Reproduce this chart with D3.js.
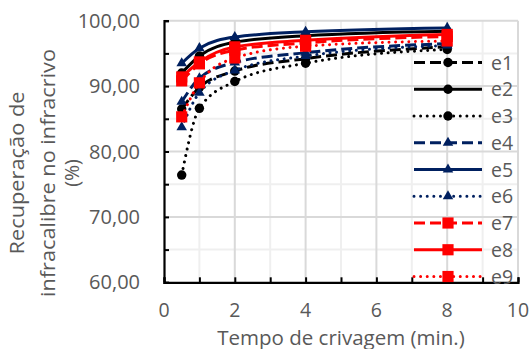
<!DOCTYPE html>
<html>
<head>
<meta charset="utf-8">
<script src="https://cdn.jsdelivr.net/npm/d3@7"></script>
<style>
  html, body { margin: 0; padding: 0; background: #fff; }
  svg { display: block; }
  text { font-family: "Open Sans", "Liberation Sans", sans-serif; fill: #595959; }
</style>
</head>
<body>
<svg id="chart" width="530" height="349"></svg>
<script>
// Sieving time (min.)
const times = [0.5, 1, 2, 4, 8];

// Undersize recovery (%) per test
const e1 = [86.5, 89.8, 92.3, 94.2, 96.0];
const e2 = [92.0, 94.6, 96.7, 97.7, 98.4];
const e3 = [76.4, 86.6, 90.7, 93.5, 95.6];
const e4 = [87.6, 91.2, 93.6, 95.1, 96.5];
const e5 = [93.5, 95.8, 97.5, 98.3, 98.9];
const e6 = [83.7, 89.0, 92.4, 94.6, 96.2];
const e7 = [90.8, 93.4, 95.5, 96.6, 97.6];
const e8 = [91.4, 93.7, 96.0, 97.0, 97.9];
const e9 = [85.3, 90.5, 94.3, 96.1, 96.9];

const seriesNames = ["e1", "e2", "e3", "e4", "e5", "e6", "e7", "e8", "e9"];
const seriesValues = [e1, e2, e3, e4, e5, e6, e7, e8, e9];

const xTicks = [0, 2, 4, 6, 8, 10];
const yTicks = [60, 70, 80, 90, 100];

// Styles: colour, dash pattern, marker shape
const colours = ["#000000", "#000000", "#000000", "#002060", "#002060", "#002060", "#ff0000", "#ff0000", "#ff0000"];
const dashes = ["dash", "solid", "dot", "dash", "solid", "dot", "dash", "solid", "dot"];
const shapes = ["circle", "circle", "circle", "triangle", "triangle", "triangle", "square", "square", "square"];

const svg = d3.select("#chart");
const m = { left: 164, right: 518, top: 20.7, bottom: 282.3 };

const x = d3.scaleLinear().domain([0, 10]).range([m.left, m.right]);
const y = d3.scaleLinear().domain([60, 100]).range([m.bottom, m.top]);

// Gridlines: minor first, then major
const grid = svg.append("g");
const minorX = d3.range(1, 11, 2), majorX = d3.range(2, 11, 2);
const minorY = d3.range(65, 100, 10), majorY = d3.range(70, 101, 10);
grid.selectAll(".mx").data(minorX).join("line")
  .attr("x1", d => x(d)).attr("x2", d => x(d)).attr("y1", m.top).attr("y2", m.bottom)
  .attr("stroke", "#efefef").attr("stroke-width", 2);
grid.selectAll(".my").data(minorY).join("line")
  .attr("y1", d => y(d)).attr("y2", d => y(d)).attr("x1", m.left).attr("x2", m.right)
  .attr("stroke", "#efefef").attr("stroke-width", 2);
grid.selectAll(".Mx").data(majorX).join("line")
  .attr("x1", d => x(d)).attr("x2", d => x(d)).attr("y1", m.top).attr("y2", m.bottom)
  .attr("stroke", "#d9d9d9").attr("stroke-width", 2);
grid.selectAll(".My").data(majorY).join("line")
  .attr("y1", d => y(d)).attr("y2", d => y(d)).attr("x1", m.left).attr("x2", m.right)
  .attr("stroke", "#d9d9d9").attr("stroke-width", 2);

// Axes with inward tick marks
const xAxis = d3.axisBottom(x).tickValues(d3.range(0, 11, 1)).tickSize(-5).tickFormat("");
const yAxis = d3.axisLeft(y).tickValues(d3.range(60, 101, 5)).tickSize(-5).tickFormat("");
const gx = svg.append("g").attr("transform", `translate(0,${m.bottom})`).call(xAxis);
const gy = svg.append("g").attr("transform", `translate(${m.left},0)`).call(yAxis);
[gx, gy].forEach(g => {
  g.select(".domain").attr("stroke", "#000").attr("stroke-width", 2.2);
  g.selectAll(".tick line").attr("stroke", "#000").attr("stroke-width", 2);
});

// Tick labels
svg.append("g").selectAll("text").data(xTicks).join("text")
  .attr("x", d => x(d)).attr("y", 317)
  .attr("text-anchor", "middle").attr("font-size", 19.5)
  .text(d => d);
const fmt = d => d.toFixed(2).replace(".", ",");
svg.append("g").selectAll("text").data(yTicks).join("text")
  .attr("x", 140).attr("y", d => y(d) + 7)
  .attr("text-anchor", "end").attr("font-size", 20)
  .text(fmt);

// Axis titles
svg.append("text").attr("x", 341).attr("y", 344.5)
  .attr("text-anchor", "middle").attr("font-size", 20.5)
  .text("Tempo de crivagem (min.)");
const yTitle = svg.append("text")
  .attr("transform", "translate(0,173) rotate(-90)")
  .attr("text-anchor", "middle").attr("font-size", 19.5);
const yTitleLines = ["Recuperação de", "infracalibre no infracrivo", "(%)"];
const yTitleOffsets = [24, 55, 79];
const yTitleWidths = [163, 248, null];
yTitleLines.forEach((t, i) => {
  const ts = yTitle.append("tspan").attr("x", 0).attr("y", yTitleOffsets[i]).text(t);
  if (yTitleWidths[i]) ts.attr("textLength", yTitleWidths[i]).attr("lengthAdjust", "spacingAndGlyphs");
});

const dashArray = { dash: "11,5", solid: null, dot: "0.01,6.6" };
const symbolFor = {
  circle: d3.symbol(d3.symbolCircle, 70),
  triangle: d3.symbol(d3.symbolTriangle, 48),
  square: d3.symbol(d3.symbolSquare, 125)
};

const line = d3.line().x(d => x(d[0])).y(d => y(d[1])).curve(d3.curveMonotoneX);

// Series lines and markers
const plot = svg.append("g");
seriesValues.forEach((vals, i) => {
  const pts = times.map((t, j) => [t, vals[j]]);
  const g = plot.append("g");
  g.append("path").datum(pts)
    .attr("d", line)
    .attr("fill", "none")
    .attr("stroke", colours[i])
    .attr("stroke-width", 3)
    .attr("stroke-linecap", dashes[i] === "dot" ? "round" : "butt")
    .attr("stroke-dasharray", dashArray[dashes[i]]);
  g.selectAll("path.mk").data(pts).join("path")
    .attr("class", "mk")
    .attr("transform", d => `translate(${x(d[0])},${y(d[1])})`)
    .attr("d", symbolFor[shapes[i]])
    .attr("fill", colours[i]);
});

// Legend inside plot area
const legend = svg.append("g");
seriesNames.forEach((name, i) => {
  const ly = 62.5 + i * 26.75;
  const g = legend.append("g");
  g.append("line")
    .attr("x1", 414).attr("x2", 482).attr("y1", ly).attr("y2", ly)
    .attr("stroke", colours[i]).attr("stroke-width", 3)
    .attr("stroke-linecap", dashes[i] === "dot" ? "round" : "butt")
    .attr("stroke-dasharray", dashArray[dashes[i]]);
  g.append("path")
    .attr("transform", `translate(448,${ly})`)
    .attr("d", symbolFor[shapes[i]])
    .attr("fill", colours[i]);
  g.append("text")
    .attr("x", 491).attr("y", ly + 7)
    .attr("font-size", 19.5)
    .text(name);
});
</script>
</body>
</html>
